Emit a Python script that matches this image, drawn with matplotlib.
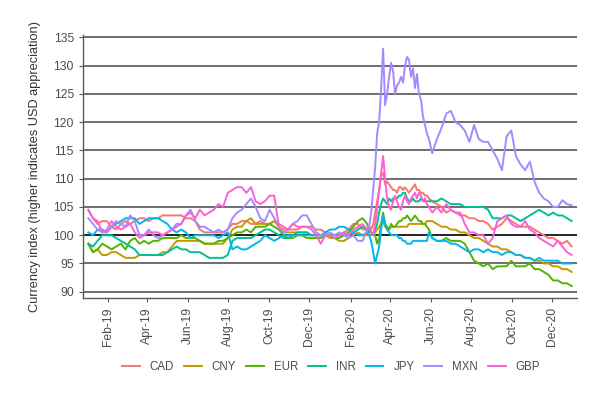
import matplotlib
matplotlib.use("Agg")
import matplotlib.pyplot as plt
import matplotlib.dates as mdates
import pandas as pd

plt.rcParams["font.family"] = ["Liberation Sans", "DejaVu Sans"]

# weekly to end of Feb 2020, every 3 days through the March-May turmoil, weekly after
dates = (list(pd.date_range("2019-01-02", "2020-02-26", freq="7D"))
         + list(pd.date_range("2020-02-29", periods=31, freq="3D"))
         + list(pd.date_range("2020-06-03", "2020-12-30", freq="7D")))

cad = [104.5, 103, 102, 102.5, 102.5, 101.5, 101, 102, 102.5, 102,
       102.5, 103, 103, 102.5, 103, 103, 103.5, 103.5, 103.5, 103.5,
       103.5, 103, 103, 102.5, 101, 100.5, 100.5, 100.5, 100.5, 100.5,
       101, 102, 102, 102.5, 102.5, 102, 102, 102.5, 102, 102,
       102.5, 102, 101.5, 101, 101, 101, 101.5, 101.5, 101.5, 101,
       101, 100.5, 100, 100, 100, 100.5, 101, 102, 102, 101,
       101,
       101.5, 101, 102, 104, 106, 108, 110.5, 111, 109, 109.5,
       109, 108.5, 108, 108, 107.5, 108.5, 108.5, 108, 108.5, 108,
       107.5, 108, 108.5, 109, 108, 108, 107.5, 107.5, 107, 107,
       106.5,
       106, 105.5, 105, 104, 104.5, 104, 103.5, 103.5, 103, 103,
       102.5, 102.5, 102, 101, 101.5, 102, 103, 102.5, 102, 101.5,
       101.5, 101.5, 101, 100.5, 100, 99.5, 99.5, 99, 98.5, 99,
       98]

cny = [98.5, 97, 97.5, 96.5, 96.5, 97, 97, 96.5, 96, 96,
       96, 96.5, 96.5, 96.5, 96.5, 96.5, 97, 97, 98, 99,
       99, 99, 99, 99, 99, 98.5, 98.5, 98.5, 98.5, 98.5,
       99.5, 101, 101.5, 101.5, 102.5, 103, 102, 102, 102, 102,
       102.5, 101.5, 100.5, 100.5, 100.5, 100.5, 100.5, 100.5, 100, 100,
       100, 100, 99.5, 99.5, 99, 99, 99.5, 100, 100.5, 100,
       100,
       100, 100, 100.5, 100.5, 101, 101.5, 102, 102.5, 101.5, 101,
       101, 101.5, 101.5, 101.5, 101.5, 101.5, 101.5, 101.5, 101.5, 101.5,
       102, 102, 102, 102, 102, 102, 102, 102, 102, 102.5,
       102.5,
       102.5, 102, 101.5, 101.5, 101, 101, 100.5, 100.5, 100, 99.5,
       99.5, 99, 98.5, 98, 98, 97.5, 97.5, 97, 96.5, 96.5,
       96, 96, 95.5, 95.5, 95, 95, 94.5, 94.5, 94, 94,
       93.5]

eur = [98.5, 97, 97.5, 98.5, 98, 97.5, 98, 98.5, 97.5, 99,
       99.5, 98.5, 99, 98.5, 99, 99, 99.5, 99.5, 99.5, 99.5,
       100, 99.5, 99.5, 99.5, 99, 98.5, 98.5, 98.5, 99, 99,
       99.5, 100, 100.5, 100.5, 101, 100.5, 101.5, 101.5, 101.5, 102,
       101.5, 101, 100, 99.5, 99.5, 100, 100, 99.5, 99.5, 99.5,
       99.5, 100, 100, 99.5, 99.5, 100, 100.5, 101.5, 102.5, 103,
       102,
       101, 100.5, 100, 100, 98.5, 99.5, 102, 104, 102, 101.5,
       101, 102, 101.5, 101.5, 102, 102.5, 102.5, 103, 103, 103.5,
       103, 102.5, 103, 103.5, 103, 102.5, 102.5, 102, 102, 101.5,
       101,
       99.5, 99, 99, 99.5, 99, 99, 99, 98.5, 97, 95.5,
       95, 94.5, 95, 94, 94.5, 94.5, 94.5, 95.5, 94.5, 94.5,
       94.5, 95, 94, 94, 93.5, 93, 92, 92, 91.5, 91.5,
       91]

inr = [98.5, 98, 99, 100, 100, 100, 99.5, 99, 98.5, 98,
       97.5, 96.5, 96.5, 96.5, 96.5, 96.5, 96.5, 97, 97.5, 98,
       97.5, 97.5, 97, 97, 97, 96.5, 96, 96, 96, 96,
       96.5, 99, 99.5, 99.5, 99.5, 99.5, 100, 100.5, 101, 101,
       100.5, 100, 99.5, 99.5, 100, 100.5, 100.5, 100.5, 100, 100,
       100, 100, 100, 100, 100, 100, 100, 100.5, 101, 101.5,
       101,
       100.5, 100.5, 100, 101, 102, 104, 105.5, 106.5, 106, 105.5,
       106.5, 106, 106.5, 106.5, 106.5, 107, 107, 107.5, 107.5, 106.5,
       106, 106, 106.5, 106, 106, 106, 106.5, 106, 106, 106,
       106,
       106, 106, 106.5, 106, 105.5, 105.5, 105.5, 105, 105, 105,
       105, 105, 104.5, 103, 103, 103, 103.5, 103.5, 103, 102.5,
       103, 103.5, 104, 104.5, 104, 103.5, 104, 103.5, 103.5, 103,
       102.5]

jpy = [100.5, 100, 101, 101, 100.5, 101.5, 102, 102.5, 103, 103,
       103, 102, 102.5, 103, 103, 103, 102.5, 102, 101, 100.5,
       101, 100.5, 99.5, 100, 100, 100, 100, 100, 99.5, 100,
       100.5, 97.5, 98, 97.5, 97.5, 98, 98.5, 99, 100, 99.5,
       99, 99.5, 100, 100, 100, 100, 100, 100, 100, 100,
       100, 100.5, 101, 101, 101.5, 101.5, 101, 100.5, 100, 100,
       100.5,
       100, 99, 97, 95, 96.5, 98, 101, 103.5, 102, 101,
       100.5, 100, 100, 100, 100, 99.5, 99.5, 99, 99, 98.5,
       98.5, 98.5, 99, 99, 99, 99, 99, 99, 99, 99,
       100.5,
       99.5, 99, 99, 99, 98.5, 98.5, 98, 97.5, 97, 97.5,
       97.5, 97, 97.5, 97, 97, 96.5, 97, 97, 96.5, 96.5,
       96, 96, 95.5, 96, 95.5, 95.5, 95.5, 95.5, 95, 95,
       95]

mxn = [103, 102, 101, 100.5, 100.5, 101.5, 102.5, 102, 101.5, 103.5,
       102.5, 100, 100, 101, 100, 99.5, 100, 100.5, 101, 102,
       102, 103.5, 104.5, 102.5, 101.5, 101.5, 101, 100.5, 101, 100.5,
       101, 103, 104, 104.5, 105.5, 106.5, 105, 103, 102.5, 104.5,
       103, 101.5, 100.5, 101, 102, 102.5, 103.5, 103.5, 102, 100.5,
       100, 100, 100.5, 100, 100.5, 100, 99.5, 100, 99, 99,
       101,
       101.5, 104, 108, 112, 118, 120, 126, 133, 123, 125,
       128, 130.5, 129, 125, 126.5, 127, 128, 127, 130, 131.5,
       131, 128, 129.5, 126, 128.5, 125, 124, 121, 119.5, 118,
       117,
       114.5, 117, 119, 121.5, 122, 120, 119.5, 118.5, 116.5, 119.5,
       117, 116.5, 116.5, 115, 113.5, 111.5, 117.5, 118.5, 114, 112.5,
       111.5, 113, 109.5, 107.5, 106.5, 106, 105, 105, 106.2, 105.5,
       105.3]

gbp = [104.5, 103, 102.5, 100.5, 101, 102.5, 101.5, 101, 101.5, 102,
       100.5, 99.5, 100, 100.5, 100.5, 100.5, 100, 100.5, 101, 101.5,
       102, 103.5, 104, 103, 104.5, 103.5, 104, 104.5, 105.5, 105,
       107.5, 108, 108.5, 108.5, 107.5, 108.5, 106, 105.5, 106, 107,
       107, 101.5, 101, 101, 102, 101.5, 101.5, 101.5, 101, 100,
       98.5, 100, 100, 99.5, 100, 100.5, 100, 101, 101.5, 102,
       101,
       101.5, 100.5, 100, 102, 104.5, 108, 111, 114, 110, 106.5,
       105, 104.5, 106, 107, 106, 105, 104.5, 106, 107, 106,
       105.5, 106.5, 107, 107.5, 106.5, 107.5, 107, 106, 106.5, 105.5,
       105,
       104, 105, 104, 105.5, 104.5, 104, 104, 102, 100.5, 100.5,
       100, 100, 98.5, 99.5, 102.5, 103, 103.5, 102, 101.5, 101.5,
       102.5, 101, 100.5, 99.5, 99, 98.5, 98, 99, 98, 97,
       96.5]

names = ["CAD", "CNY", "EUR", "INR", "JPY", "MXN", "GBP"]
series = [cad, cny, eur, inr, jpy, mxn, gbp]
colors = ["#F8766D", "#C49A00", "#53B400", "#00C094", "#00B6EB", "#A58AFF", "#FB61D7"]

fig = plt.figure(figsize=(6.05, 3.96), dpi=100)
ax = fig.add_axes([83 / 605, 1 - 298 / 396, 494 / 605, 263 / 396])

# horizontal reference lines
for v in range(90, 136, 5):
    ax.axhline(v, color="#000000" if v == 100 else "#555555", lw=1.2, zorder=1)

for name, vals, col in zip(names, series, colors):
    ax.plot(dates, vals, color=col, lw=1.4, label=name, zorder=2)

ax.set_ylim(88.9, 135.4)
ax.set_xlim(pd.Timestamp("2018-12-25"), pd.Timestamp("2021-01-07"))
ax.set_yticks(range(90, 136, 5))
ax.set_xticks(pd.date_range("2019-02-01", "2020-12-01", freq="2MS"))
ax.xaxis.set_major_formatter(mdates.DateFormatter("%b-%y"))
plt.setp(ax.get_xticklabels(), rotation=90)

for s in ["top", "right"]:
    ax.spines[s].set_visible(False)
for s in ["left", "bottom"]:
    ax.spines[s].set_color("#5a5a5a")
    ax.spines[s].set_linewidth(1.0)
ax.tick_params(colors="#5a5a5a", labelcolor="#4D4D4D", labelsize=8.7, length=3, width=0.8)

ax.set_ylabel("Currency index (higher indicates USD appreciation)", fontsize=9.2, color="#333333")
ax.yaxis.set_label_coords(-0.085, 0.5)

fig.legend(loc="center", bbox_to_anchor=(331 / 605, 1 - 367 / 396), ncol=7, frameon=False,
           fontsize=8.3, handlelength=1.53, columnspacing=0.87, handletextpad=0.87,
           labelcolor="#4D4D4D")

fig.savefig("out.png", dpi=100)
